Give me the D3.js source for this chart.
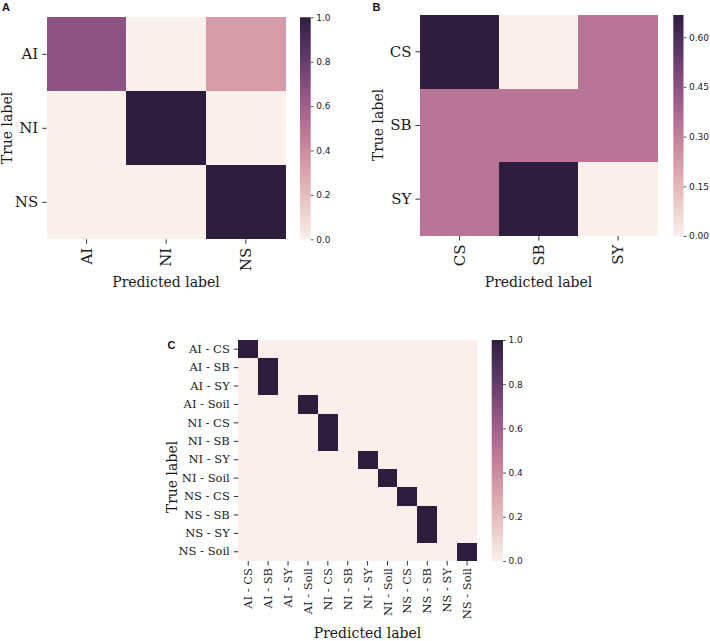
<!DOCTYPE html>
<html><head><meta charset="utf-8">
<script src="https://cdn.jsdelivr.net/npm/d3@7"></script>
<style>body{margin:0;background:#fff} svg{display:block}</style>
</head><body>
<script>
// ---- data ----
const labelsA = ["AI", "NI", "NS"];
const valuesA = [
  [0.667, 0, 0.333],
  [0, 1, 0],
  [0, 0, 1]
];
const cbarTicksA = [0, 0.2, 0.4, 0.6, 0.8, 1.0];

const labelsB = ["CS", "SB", "SY"];
const valuesB = [
  [0.667, 0, 0.333],
  [0.333, 0.333, 0.333],
  [0.333, 0.667, 0]
];
const cbarTicksB = [0, 0.15, 0.30, 0.45, 0.60];

const labelsC = ["AI - CS", "AI - SB", "AI - SY", "AI - Soil",
                 "NI - CS", "NI - SB", "NI - SY", "NI - Soil",
                 "NS - CS", "NS - SB", "NS - SY", "NS - Soil"];
const valuesC = [
  [1,0,0,0,0,0,0,0,0,0,0,0],
  [0,1,0,0,0,0,0,0,0,0,0,0],
  [0,1,0,0,0,0,0,0,0,0,0,0],
  [0,0,0,1,0,0,0,0,0,0,0,0],
  [0,0,0,0,1,0,0,0,0,0,0,0],
  [0,0,0,0,1,0,0,0,0,0,0,0],
  [0,0,0,0,0,0,1,0,0,0,0,0],
  [0,0,0,0,0,0,0,1,0,0,0,0],
  [0,0,0,0,0,0,0,0,1,0,0,0],
  [0,0,0,0,0,0,0,0,0,1,0,0],
  [0,0,0,0,0,0,0,0,0,1,0,0],
  [0,0,0,0,0,0,0,0,0,0,0,1]
];
const cbarTicksC = [0, 0.2, 0.4, 0.6, 0.8, 1.0];

// ---- colormap (seaborn cubehelix_palette style) ----
function cubehelix(v) {
  const light = 0.95, dark = 0.15, start = 0, rot = 0.4, hue = 0.8;
  const x = light + (dark - light) * Math.max(0, Math.min(1, v));
  const a = hue * x * (1 - x) / 2;
  const phi = 2 * Math.PI * (start / 3 + rot * x);
  const c = Math.cos(phi), s = Math.sin(phi);
  const cl = t => Math.round(255 * Math.max(0, Math.min(1, t)));
  const r = x + a * (-0.14861 * c + 1.78277 * s);
  const g = x + a * (-0.29227 * c - 0.90649 * s);
  const b = x + a * (1.97294 * c);
  return `rgb(${cl(r)},${cl(g)},${cl(b)})`;
}

const W = 710, H = 641;
const svg = d3.select("body").append("svg").attr("width", W).attr("height", H);
const defs = svg.append("defs");
const serif = "'DejaVu Serif', serif";
const sans = "'DejaVu Sans', sans-serif";
const ink = "#1a1a1a";

function panel(cfg) {
  const {labels, values, vmax, ticks, fmt, hx, hy, cx, tickFont, letter, letterPos,
         ylabPos, xlabPos, xPad, id} = cfg;
  const g = svg.append("g");
  const x = d3.scaleBand().domain(labels).range(hx);
  const y = d3.scaleBand().domain(labels).range(hy);
  const color = v => cubehelix(v / vmax);

  const cells = [];
  values.forEach((row, i) => row.forEach((v, j) => cells.push({r: labels[i], c: labels[j], v})));
  g.selectAll("rect.cell").data(cells).join("rect")
    .attr("class", "cell")
    .attr("x", d => x(d.c)).attr("y", d => y(d.r))
    .attr("width", x.bandwidth()).attr("height", y.bandwidth())
    .attr("fill", d => color(d.v))
    .attr("shape-rendering", "crispEdges");

  // y axis
  const ya = g.append("g").attr("transform", `translate(${hx[0]},0)`)
    .call(d3.axisLeft(y).tickSize(4.5).tickPadding(4));
  ya.select(".domain").remove();
  ya.selectAll("line").attr("stroke", ink).attr("stroke-width", 0.9);
  ya.selectAll("text").attr("font-family", serif).attr("font-size", tickFont).attr("fill", ink);

  // x axis
  const xa = g.append("g").attr("transform", `translate(0,${hy[1]})`)
    .call(d3.axisBottom(x).tickSize(4.5));
  xa.select(".domain").remove();
  xa.selectAll("line").attr("stroke", ink).attr("stroke-width", 0.9);
  xa.selectAll("text")
    .attr("font-family", serif).attr("font-size", tickFont).attr("fill", ink)
    .attr("transform", "rotate(-90)")
    .attr("x", -xPad).attr("y", 0).attr("dy", "0.35em")
    .attr("text-anchor", "end");

  // colorbar
  const cy = d3.scaleLinear().domain([0, vmax]).range([hy[1], hy[0]]);
  const grad = defs.append("linearGradient").attr("id", id)
    .attr("x1", 0).attr("y1", 1).attr("x2", 0).attr("y2", 0);
  d3.range(0, 1.0001, 0.02).forEach(t => {
    grad.append("stop").attr("offset", t).attr("stop-color", cubehelix(t));
  });
  g.append("rect").attr("x", cx[0]).attr("y", hy[0])
    .attr("width", cx[1] - cx[0]).attr("height", hy[1] - hy[0])
    .attr("fill", `url(#${id})`);
  const ca = g.append("g").attr("transform", `translate(${cx[1]},0)`)
    .call(d3.axisRight(cy).tickValues(ticks).tickFormat(d3.format(fmt)).tickSize(3).tickPadding(2.5));
  ca.select(".domain").remove();
  ca.selectAll("line").attr("stroke", "#333").attr("stroke-width", 0.8);
  ca.selectAll("text").attr("font-family", sans).attr("font-size", 9).attr("fill", "#222");

  // axis labels
  g.append("text").attr("transform", `translate(${ylabPos[0]},${ylabPos[1]}) rotate(-90)`)
    .attr("text-anchor", "middle").attr("font-family", serif).attr("font-size", 14)
    .attr("fill", ink).text("True label");
  g.append("text").attr("x", xlabPos[0]).attr("y", xlabPos[1])
    .attr("text-anchor", "middle").attr("font-family", serif).attr("font-size", 14)
    .attr("fill", ink).text("Predicted label");

  // panel letter
  g.append("text").attr("x", letterPos[0]).attr("y", letterPos[1])
    .attr("font-family", "'Liberation Sans', Arial, sans-serif").attr("font-weight", "bold")
    .attr("font-size", 11).attr("fill", "#111").text(letter);
}

panel({id: "gA", labels: labelsA, values: valuesA, vmax: 1, ticks: cbarTicksA, fmt: ".1f",
  hx: [46.7, 285.7], hy: [17.3, 239.3], cx: [300, 310.7], tickFont: 15, xPad: 8.5,
  letter: "A", letterPos: [2, 11], ylabPos: [12, 128], xlabPos: [166, 287]});

panel({id: "gB", labels: labelsB, values: valuesB, vmax: 0.667, ticks: cbarTicksB, fmt: ".2f",
  hx: [420, 657.7], hy: [15, 236], cx: [673.3, 683.5], tickFont: 15, xPad: 8.5,
  letter: "B", letterPos: [372.5, 11], ylabPos: [383, 125], xlabPos: [538.5, 287]});

panel({id: "gC", labels: labelsC, values: valuesC, vmax: 1, ticks: cbarTicksC, fmt: ".1f",
  hx: [238.3, 477], hy: [340, 561], cx: [491.7, 503], tickFont: 11.5, xPad: 7,
  letter: "C", letterPos: [167.5, 348.5], ylabPos: [177, 477], xlabPos: [367.5, 638]});
</script>
</body></html>
